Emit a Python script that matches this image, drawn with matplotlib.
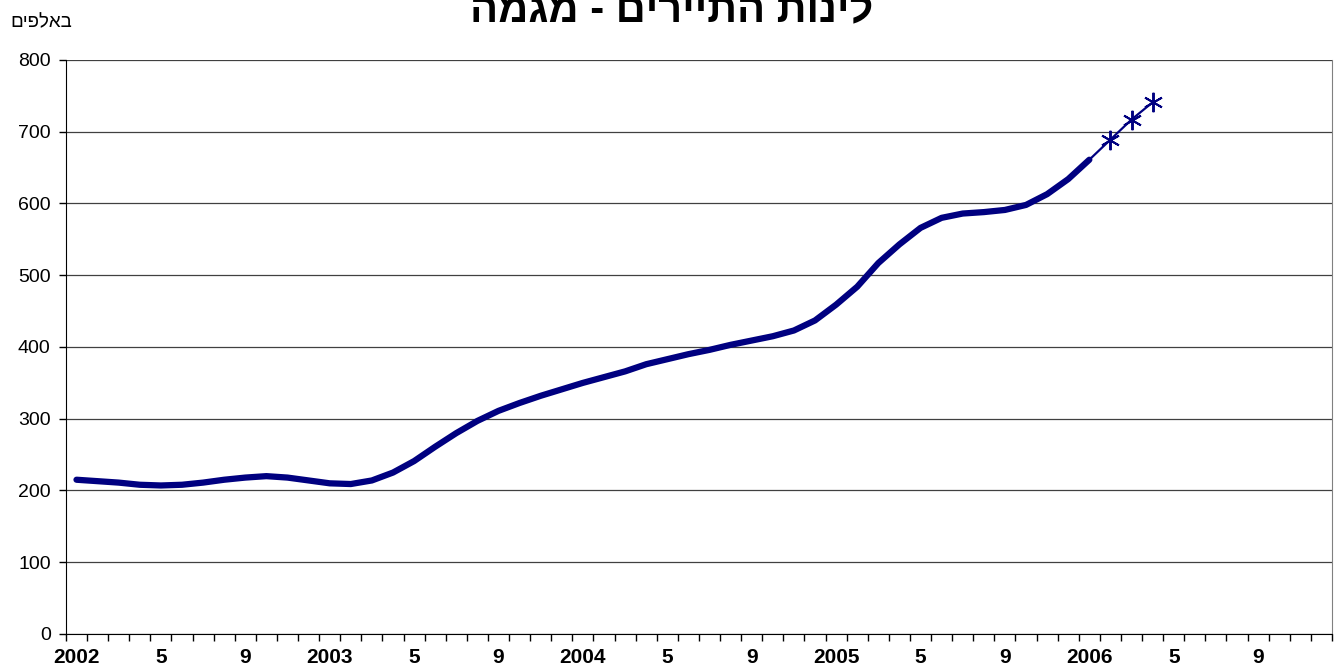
import numpy as np
import matplotlib
matplotlib.use('Agg')
import matplotlib.pyplot as plt
from matplotlib.ticker import FixedLocator, NullFormatter

plt.rcParams['font.family'] = ['Liberation Sans', 'DejaVu Sans']

# monthly categories Jan 2002 .. Dec 2006
years = [2002, 2003, 2004, 2005, 2006]
month_labels = {1: None, 5: '5', 9: '9'}

# trend of tourist nights (thousands), Jan 2002 .. Jan 2006
trend = [215, 213, 211, 208, 207, 208, 211, 215, 218, 220, 218, 214,
         210, 209, 214, 225, 241, 261, 280, 297, 311, 322, 332, 341,
         350, 358, 366, 376, 383, 390, 396, 403, 409, 415, 423, 437,
         459, 484, 517, 543, 566, 580, 586, 588, 591, 598, 613, 634,
         661]
# forecast Jan 2006 .. Apr 2006
forecast = [661, 689, 717, 741]
forecast_start = 48

title = 'לינות התיירים - מגמה'
unit_label = 'באלפים'


def rtl(s):
    # matplotlib has no bidi support, so reverse hebrew text for display
    return s[::-1]


n_months = len(years) * 12
tick_pos = []
tick_lab = []
for k, y in enumerate(years):
    for m in (1, 5, 9):
        tick_pos.append(k * 12 + m - 1)
        tick_lab.append(str(y) if m == 1 else month_labels[m])

fig = plt.figure(figsize=(13.43, 6.68), dpi=100)
ax = fig.add_axes([0.0491, 0.0509, 0.9427, 0.8593])

navy = '#000080'
ax.plot(np.arange(len(trend)), trend, color=navy, lw=4.5,
        solid_capstyle='round', solid_joinstyle='round', zorder=3)
fx = np.arange(forecast_start, forecast_start + len(forecast))
ax.plot(fx, forecast, color=navy, lw=1.6, zorder=2)
ax.plot(fx[1:], forecast[1:], ls='none', marker=(6, 2, 0), ms=14,
        mec=navy, mew=1.4, zorder=4)

ax.set_xlim(-0.5, n_months - 0.5)
ax.set_ylim(0, 800)
ax.set_yticks(np.arange(0, 801, 100))
ax.yaxis.grid(True, color='#404040', lw=0.9)
ax.set_axisbelow(True)

ax.set_xticks(tick_pos)
ax.set_xticklabels(tick_lab, fontsize=15, fontweight='bold')
ax.tick_params(axis='x', which='major', length=0, pad=10)
ax.xaxis.set_minor_locator(FixedLocator(np.arange(-0.5, n_months, 1)))
ax.xaxis.set_minor_formatter(NullFormatter())
ax.tick_params(axis='x', which='minor', length=5, width=1, color='black')
ax.tick_params(axis='y', length=5, width=1, labelsize=14, pad=6)

ax.spines['top'].set_visible(False)
ax.spines['right'].set_color('#808080')
ax.spines['left'].set_color('black')
ax.spines['bottom'].set_color('black')

fig.text(0.5, 1 - 22 / 668, rtl(title), ha='center', va='baseline',
         fontsize=30, fontweight='bold')
fig.text(0.0075, 1 - 27 / 668, rtl(unit_label), ha='left', va='baseline',
         fontsize=13.5)

fig.savefig('out.png', dpi=100)
